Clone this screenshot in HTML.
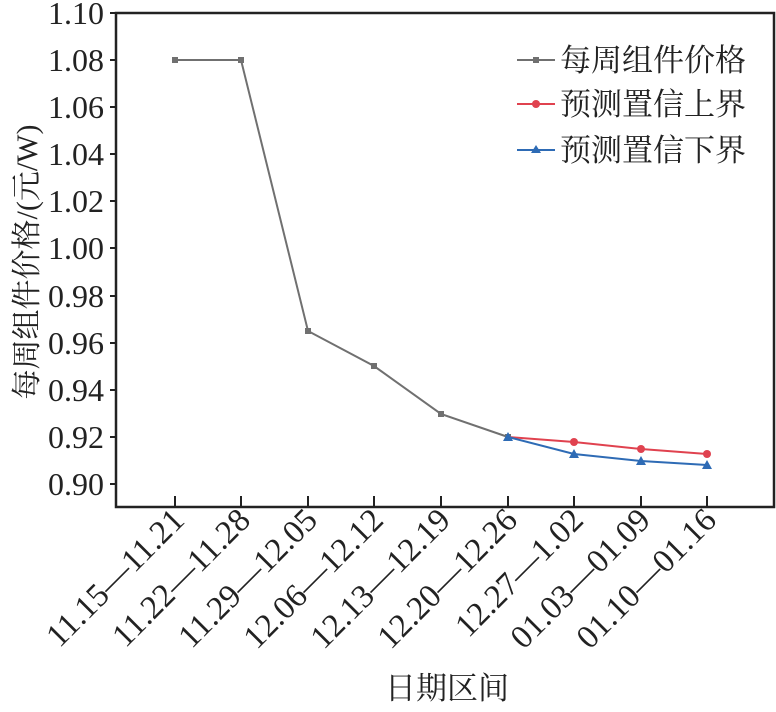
<!DOCTYPE html>
<html><head><meta charset="utf-8"><style>
html,body{margin:0;padding:0;background:#fff;}
svg text{font-family:"Liberation Serif","Noto Serif CJK SC",serif;fill:#222;}
svg .num{font-family:"Liberation Serif","Times New Roman",Times,serif;}
</style></head><body>
<svg width="776" height="707" xmlns="http://www.w3.org/2000/svg">
<rect x="116" y="13" width="658" height="494" fill="none" stroke="#222" stroke-width="2.5"/>
<g stroke="#222" stroke-width="2">
<line x1="110" y1="13" x2="116" y2="13"/><line x1="110" y1="60" x2="116" y2="60"/>
<line x1="110" y1="107" x2="116" y2="107"/><line x1="110" y1="154" x2="116" y2="154"/>
<line x1="110" y1="201" x2="116" y2="201"/><line x1="110" y1="248" x2="116" y2="248"/>
<line x1="110" y1="296" x2="116" y2="296"/><line x1="110" y1="343" x2="116" y2="343"/>
<line x1="110" y1="390" x2="116" y2="390"/><line x1="110" y1="437" x2="116" y2="437"/>
<line x1="110" y1="484" x2="116" y2="484"/>
<line x1="175" y1="496" x2="175" y2="507"/><line x1="241" y1="496" x2="241" y2="507"/>
<line x1="308" y1="496" x2="308" y2="507"/><line x1="374" y1="496" x2="374" y2="507"/>
<line x1="441" y1="496" x2="441" y2="507"/><line x1="508" y1="496" x2="508" y2="507"/>
<line x1="574" y1="496" x2="574" y2="507"/><line x1="641" y1="496" x2="641" y2="507"/>
<line x1="707" y1="496" x2="707" y2="507"/>
</g>
<g font-size="32" text-anchor="end" class="num">
<text class="num" x="104" y="24">1.10</text><text class="num" x="104" y="71">1.08</text><text class="num" x="104" y="118">1.06</text>
<text class="num" x="104" y="165">1.04</text><text class="num" x="104" y="212">1.02</text><text class="num" x="104" y="259">1.00</text>
<text class="num" x="104" y="307">0.98</text><text class="num" x="104" y="354">0.96</text><text class="num" x="104" y="401">0.94</text>
<text class="num" x="104" y="448">0.92</text><text class="num" x="104" y="495">0.90</text>
</g>
<g font-size="33" text-anchor="end">
<text class="num" transform="translate(186,522) rotate(-45)">11.15—11.21</text>
<text class="num" transform="translate(252,522) rotate(-45)">11.22—11.28</text>
<text class="num" transform="translate(319,522) rotate(-45)">11.29—12.05</text>
<text class="num" transform="translate(385,522) rotate(-45)">12.06—12.12</text>
<text class="num" transform="translate(452,522) rotate(-45)">12.13—12.19</text>
<text class="num" transform="translate(519,522) rotate(-45)">12.20—12.26</text>
<text class="num" transform="translate(585,522) rotate(-45)">12.27—1.02</text>
<text class="num" transform="translate(652,522) rotate(-45)">01.03—01.09</text>
<text class="num" transform="translate(718,522) rotate(-45)">01.10—01.16</text>
</g>
<text x="447" y="699" font-size="31" text-anchor="middle">日期区间</text>
<text transform="translate(37,262) rotate(-90)" font-size="30" text-anchor="middle">每周组件价格/(元/W)</text>
<polyline points="175,60 241,60 308,331 374,366 441,414 508,437" fill="none" stroke="#707070" stroke-width="2"/>
<g fill="#707070"><rect x="172" y="57" width="6" height="6"/><rect x="238" y="57" width="6" height="6"/><rect x="305" y="328" width="6" height="6"/><rect x="371" y="363" width="6" height="6"/><rect x="438" y="411" width="6" height="6"/><rect x="505" y="434" width="6" height="6"/></g>
<polyline points="508,437 574,442 641,449 707,454" fill="none" stroke="#e0424f" stroke-width="2"/>
<g fill="#e0424f"><circle cx="574" cy="442" r="4"/><circle cx="641" cy="449" r="4"/><circle cx="707" cy="454" r="4"/></g>
<polyline points="508,437 574,454 641,461 707,465" fill="none" stroke="#2e6bb5" stroke-width="2"/>
<g fill="#2e6bb5"><polygon points="508,432 513,441 503,441"/><polygon points="574,449 579,458 569,458"/><polygon points="641,456 646,465 636,465"/><polygon points="707,460 712,469 702,469"/></g>
<g font-size="31">
<line x1="517" y1="60" x2="555" y2="60" stroke="#707070" stroke-width="2"/><rect x="533" y="57" width="6" height="6" fill="#707070"/>
<text x="560" y="71">每周组件价格</text>
<line x1="517" y1="104" x2="555" y2="104" stroke="#e0424f" stroke-width="2"/><circle cx="536" cy="104" r="4" fill="#e0424f"/>
<text x="560" y="115">预测置信上界</text>
<line x1="517" y1="150" x2="555" y2="150" stroke="#2e6bb5" stroke-width="2"/><polygon points="536,145 541,153 531,153" fill="#2e6bb5"/>
<text x="560" y="161">预测置信下界</text>
</g>
</svg>
</body></html>
